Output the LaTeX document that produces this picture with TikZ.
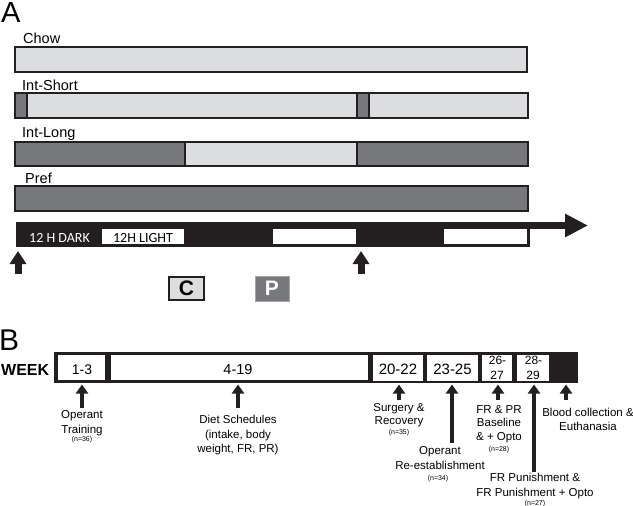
\documentclass[tikz,border=0pt]{standalone}
\usepackage{fontspec}
\setmainfont{Liberation Sans}
\newfontfamily\calib{Carlito}
\usetikzlibrary{arrows.meta}
\definecolor{lg}{HTML}{DCDDDE}
\definecolor{dg}{HTML}{77787B}
\definecolor{ink}{HTML}{231F20}
\begin{document}
\begin{tikzpicture}[x=1pt,y=-1pt,
  bar/.style={draw=ink,line width=2pt},
  lab/.style={anchor=base west,inner sep=0pt,font=\fontsize{14.5}{16}\selectfont},
  wbox/.style={fill=white,inner sep=0pt,font=\fontsize{14.5}{16}\selectfont},
  txt/.style={anchor=base,inner sep=0pt,font=\fontsize{11.5}{13}\selectfont},
  tiny/.style={anchor=base,inner sep=0pt,font=\fontsize{7}{8}\selectfont},
  bigarr/.style={line width=7pt,-{Triangle[width=16pt,length=13pt]},ink},
  uarr/.style={line width=3.6pt,-{Triangle[width=12pt,length=9pt]},ink},
]
\useasboundingbox (0,0) rectangle (633,506);

% ---------- Panel A ----------
\node[anchor=base west,inner sep=0pt,font=\fontsize{29}{30}\selectfont] (labA) at (1,23) {A};

\node[lab] (tchow) at (23,43) {Chow};
\draw[bar,fill=lg] (15,47) rectangle (527,72);

\node[lab] (tshort) at (22,90) {Int-Short};
\draw[bar,fill=lg] (15,93) rectangle (528,118);
\draw[bar,fill=dg] (15,93) rectangle (27,118);
\draw[bar,fill=dg] (357,93) rectangle (369,118);

\node[lab] (tlong) at (22,137) {Int-Long};
\draw[bar,fill=dg] (15,142) rectangle (185,166);
\draw[bar,fill=lg] (185,142) rectangle (357,166);
\draw[bar,fill=dg] (357,142) rectangle (528,166);

\node[lab] (tpref) at (25,183) {Pref};
\draw[bar,fill=dg] (15,186) rectangle (528,211);

% time bar
\coordinate (tstart) at (16,225.5);
\coordinate (tend) at (588,225.5);
\fill[ink] (16,222) rectangle (530,247);
\draw[line width=7pt,ink,-{Triangle[width=22pt,length=23pt]}] (tstart) -- (tend);
\fill[white] (102,229) rectangle (184,244);
\fill[white] (273,229) rectangle (356,244);
\fill[white] (444,229) rectangle (527,244);
\node[anchor=base,inner sep=0pt,text=white,font=\calib\fontsize{14}{16}\selectfont] (tdark) at (59.5,242.5) {12 H DARK};
\node[anchor=base,inner sep=0pt,font=\calib\fontsize{14}{16}\selectfont] (tlight) at (143,242.5) {12H LIGHT};

\coordinate (ua1s) at (18,274);
\coordinate (ua1e) at (18,251);
\coordinate (ua2s) at (361,274);
\coordinate (ua2e) at (361,251);
\draw[bigarr] (ua1s) -- (ua1e);
\draw[bigarr] (ua2s) -- (ua2e);

\node[draw=ink,line width=2.2pt,fill=lg,minimum width=35pt,minimum height=23pt,inner sep=0pt,
      font=\bfseries\fontsize{21}{22}\selectfont] (boxC) at (186.5,288.5) {C};
\node[draw=gray!70,line width=0.8pt,fill=dg,text=white,minimum width=34pt,minimum height=25pt,inner sep=0pt,
      font=\bfseries\fontsize{21}{22}\selectfont] (boxP) at (272,288.5) {P};

% ---------- Panel B ----------
\node[anchor=base west,inner sep=0pt,font=\fontsize{30}{31}\selectfont] (labB) at (-1,350) {B};
\node[anchor=base west,inner sep=0pt,font=\bfseries\fontsize{16}{18}\selectfont] (tweek) at (1,375) {WEEK};

\fill[ink] (54,352) rectangle (578,383);
\node[wbox,minimum width=47pt,minimum height=25pt] (w13) at (81.5,367.5) {};
\node[wbox,minimum width=257pt,minimum height=25pt] (w419) at (239.5,367.5) {};
\node[wbox,minimum width=50pt,minimum height=26pt] (w2022) at (398,367.5) {};
\node[wbox,minimum width=51pt,minimum height=26pt] (w2325) at (452.5,367.5) {};
\node[wbox,minimum width=30pt,minimum height=26pt] (w2627) at (497,367.5) {};
\node[wbox,minimum width=32pt,minimum height=26pt] (w2829) at (533,367.5) {};

\node[anchor=base,inner sep=0pt,font=\fontsize{14}{16}\selectfont] (n13) at (82,374) {1-3};
\node[anchor=base,inner sep=0pt,font=\fontsize{14.5}{16}\selectfont] (n419) at (238,374) {4-19};
\node[anchor=base,inner sep=0pt,font=\fontsize{15}{16}\selectfont] (n2022) at (398,374.5) {20-22};
\node[anchor=base,inner sep=0pt,font=\fontsize{15}{16}\selectfont] (n2325) at (452.5,374.5) {23-25};
\node[anchor=base,inner sep=0pt,font=\fontsize{12}{14}\selectfont] (n26) at (497.5,364.5) {26-};
\node[anchor=base,inner sep=0pt,font=\fontsize{12}{14}\selectfont] (n27) at (497,379) {27};
\node[anchor=base,inner sep=0pt,font=\fontsize{12}{14}\selectfont] (n28) at (533.5,364.5) {28-};
\node[anchor=base,inner sep=0pt,font=\fontsize{12}{14}\selectfont] (n29) at (533,379) {29};

% arrows
\coordinate (b1s) at (82,408);   \coordinate (b1e) at (82,384.5);
\coordinate (b2s) at (238,408);  \coordinate (b2e) at (238,384.5);
\coordinate (b3s) at (399,400);  \coordinate (b3e) at (399,384.5);
\coordinate (b4s) at (452,443);  \coordinate (b4e) at (452,384.5);
\coordinate (b5s) at (498,400);  \coordinate (b5e) at (498,384.5);
\coordinate (b6s) at (534,472);  \coordinate (b6e) at (534,384.5);
\coordinate (b7s) at (566,400);  \coordinate (b7e) at (566,384.5);
\draw[uarr] (b1s) -- (b1e);
\draw[uarr] (b2s) -- (b2e);
\draw[uarr] (b3s) -- (b3e);
\draw[uarr] (b4s) -- (b4e);
\draw[uarr] (b5s) -- (b5e);
\draw[uarr] (b6s) -- (b6e);
\draw[uarr] (b7s) -- (b7e);

% labels
\node[txt] (l1a) at (82,418) {Operant};
\node[txt] (l1b) at (82,433) {Training};
\node[tiny] (l1c) at (82,441) {(n=36)};

\node[txt] (l2a) at (238,423) {Diet Schedules};
\node[txt] (l2b) at (238,438) {(intake, body};
\node[txt] (l2c) at (238,452) {weight, FR, PR)};

\node[txt] (l3a) at (399,411) {Surgery \&};
\node[txt] (l3b) at (399,424) {Recovery};
\node[tiny] (l3c) at (399,434.5) {(n=35)};

\node[txt] (l4a) at (440,454) {Operant};
\node[txt] (l4b) at (440,469) {Re-establishment};
\node[tiny] (l4c) at (438,480) {(n=34)};

\node[txt] (l5a) at (499,413) {FR \& PR};
\node[txt] (l5b) at (499,426.5) {Baseline};
\node[txt] (l5c) at (499,440) {\& + Opto};
\node[tiny] (l5d) at (499,451) {(n=28)};

\node[txt] (l6a) at (535,481) {FR Punishment \&};
\node[txt] (l6b) at (535,496) {FR Punishment + Opto};
\node[tiny] (l6c) at (535,505.5) {(n=27)};

\node[txt] (l7a) at (588,416) {Blood collection \&};
\node[txt] (l7b) at (588,430) {Euthanasia};
\end{tikzpicture}
\end{document}
